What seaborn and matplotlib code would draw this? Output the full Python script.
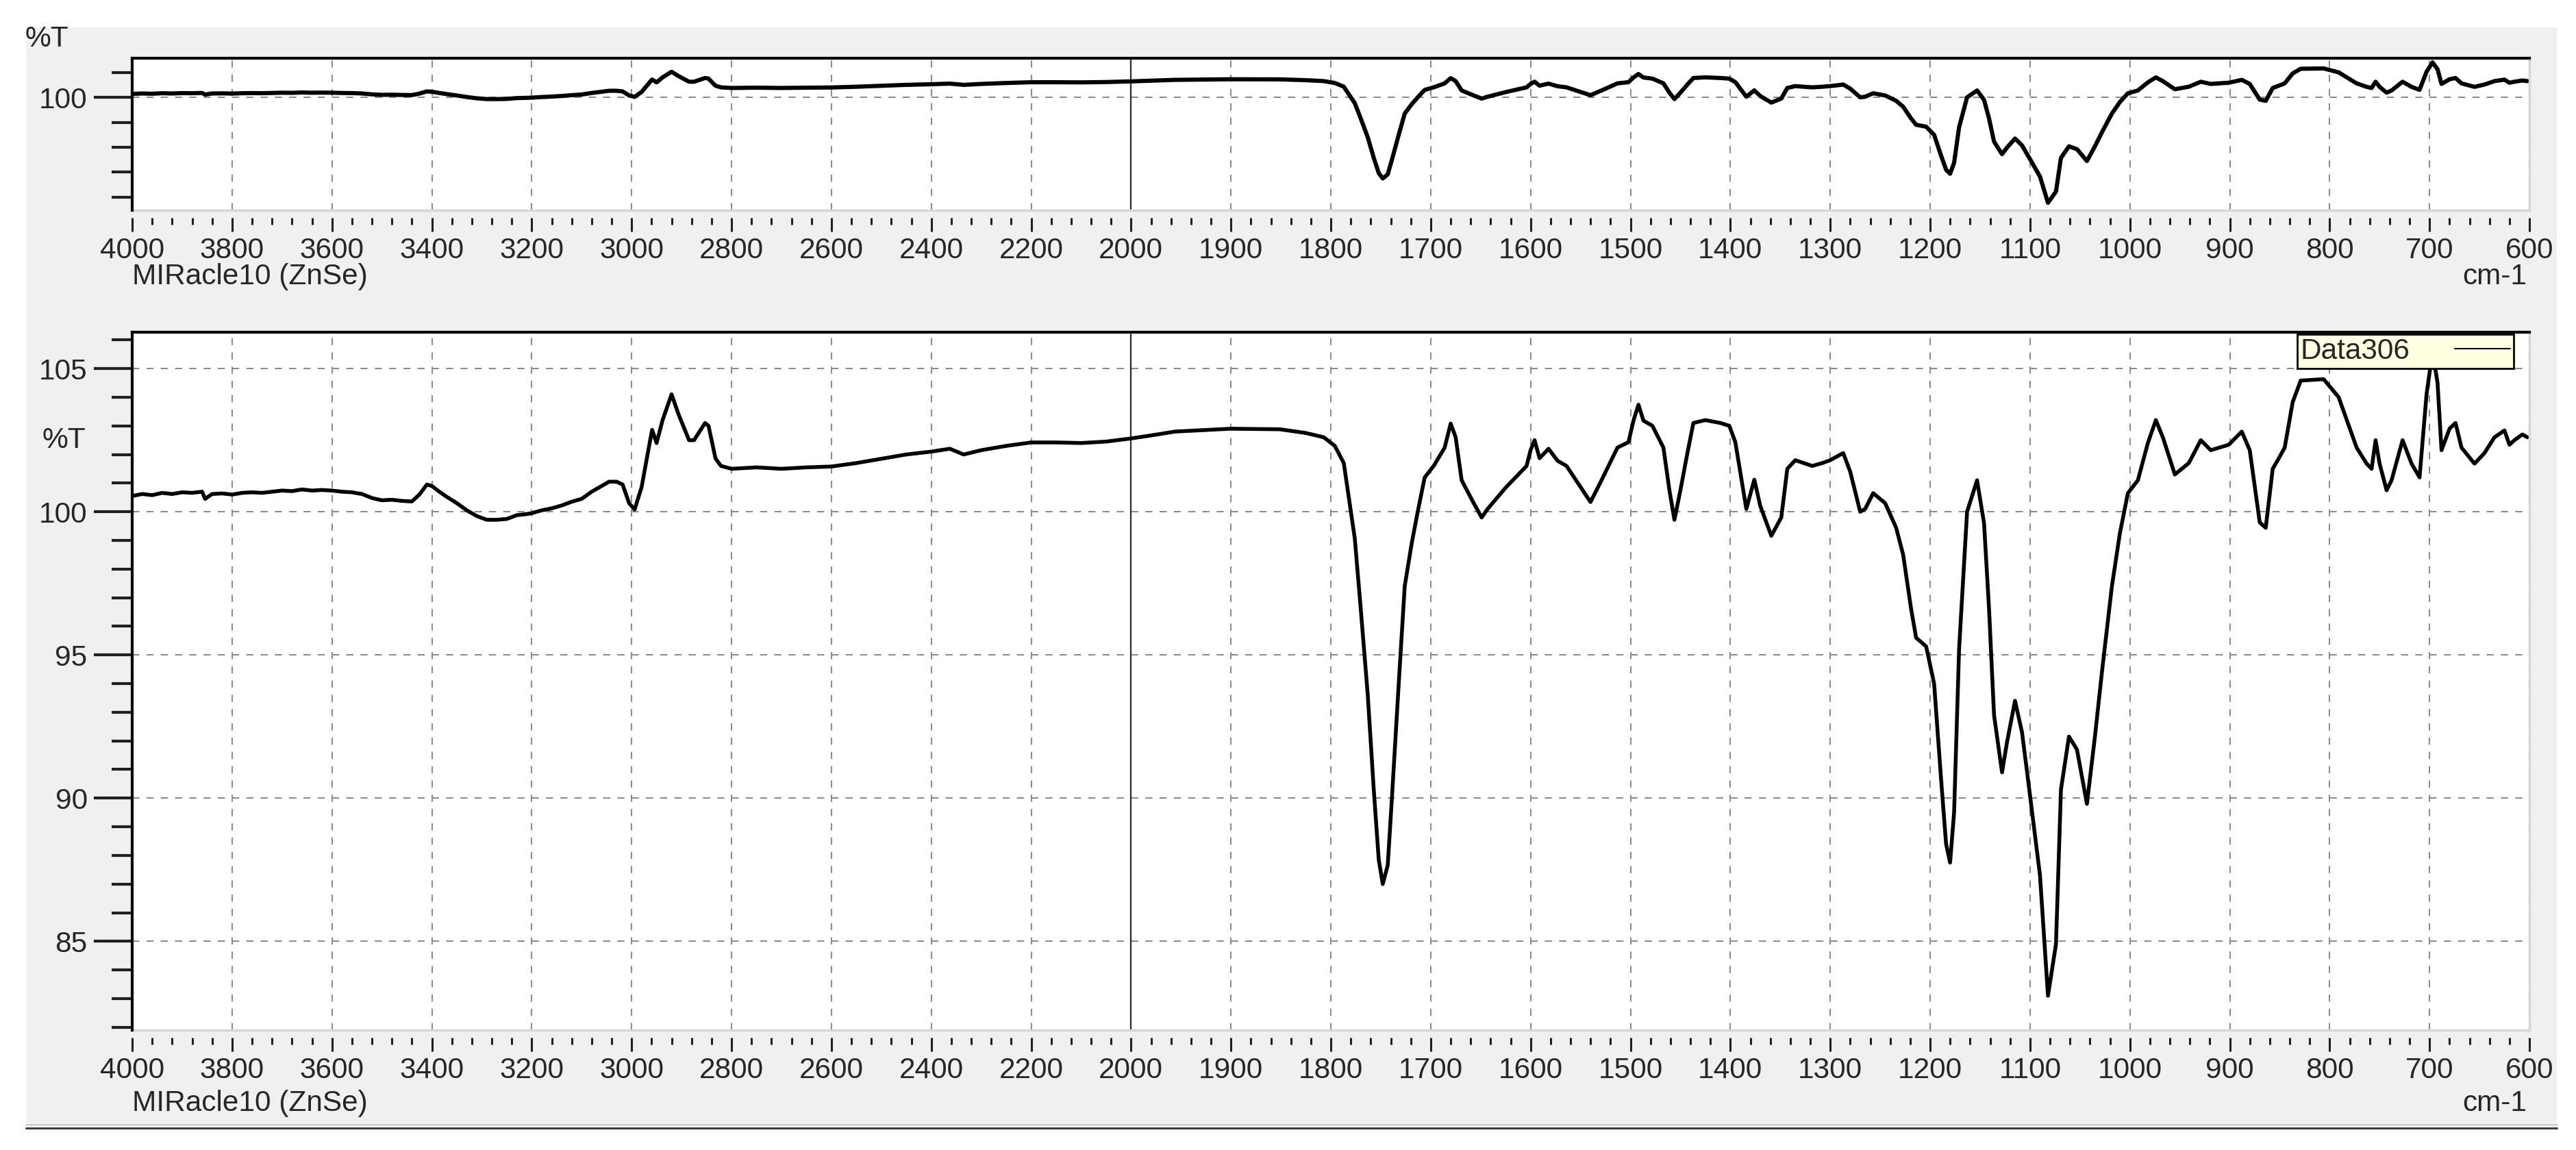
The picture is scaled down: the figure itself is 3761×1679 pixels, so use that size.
import numpy as np
import pandas as pd
import matplotlib
matplotlib.use("Agg")
import matplotlib.pyplot as plt
import matplotlib.transforms as mtransforms
from matplotlib.ticker import FixedLocator, FixedFormatter
from matplotlib.patches import Rectangle
from matplotlib.lines import Line2D
import seaborn as sns

# %% spectrum (cm-1, %T)
wavenumber = [4000, 3980, 3960, 3940, 3920, 3900, 3880, 3860, 3854, 3840, 3820, 3800,
              3780, 3760, 3740, 3720, 3700, 3680, 3660, 3640, 3620, 3600, 3580, 3560,
              3540, 3520, 3500, 3480, 3460, 3440, 3425, 3410, 3400, 3385, 3370, 3350,
              3330, 3310, 3290, 3270, 3250, 3230, 3210, 3200, 3180, 3160, 3140, 3120,
              3100, 3080, 3060, 3045, 3030, 3018, 3005, 2994, 2980, 2966, 2959, 2950,
              2938, 2920, 2906, 2885, 2875, 2853, 2846, 2832, 2821, 2800, 2750, 2700,
              2650, 2600, 2550, 2500, 2450, 2400, 2363, 2335, 2300, 2250, 2200, 2150,
              2100, 2050, 2000, 1979, 1956, 1900, 1851, 1825, 1807, 1796, 1787, 1783,
              1776, 1770, 1763, 1757, 1752, 1748, 1743, 1739, 1732, 1726, 1719, 1713,
              1706, 1697, 1686, 1680, 1675, 1669, 1658, 1649, 1643, 1625, 1604, 1600,
              1596, 1591, 1582, 1573, 1564, 1540, 1529, 1513, 1502, 1497, 1492, 1487,
              1478, 1467, 1461, 1456, 1450, 1443, 1437, 1425, 1410, 1401, 1395, 1384,
              1376, 1370, 1359, 1349, 1343, 1335, 1318, 1308, 1300, 1287, 1280, 1270,
              1265, 1257, 1245, 1234, 1227, 1219, 1214, 1204, 1196, 1189, 1184, 1180,
              1176, 1171, 1163, 1153, 1146, 1141, 1136, 1128, 1123, 1115, 1108, 1100,
              1090, 1082, 1074, 1069, 1061, 1053, 1043, 1035, 1028, 1018, 1010, 1002,
              992, 982, 974, 967, 955, 941, 929, 919, 901, 888, 880, 870,
              864, 857, 852, 845, 837, 829, 806, 791, 773, 763, 758, 754,
              750, 743, 738, 727, 718, 710, 703, 697, 692, 688, 680, 674,
              668, 655, 645, 635, 625, 620, 615, 607, 602]
transmittance = [100.55, 100.62, 100.58, 100.66, 100.62, 100.68, 100.66, 100.70, 100.45, 100.62, 100.64, 100.60,
                 100.66, 100.68, 100.66, 100.70, 100.74, 100.72, 100.78, 100.74, 100.76, 100.74, 100.70, 100.68,
                 100.62, 100.48, 100.40, 100.42, 100.38, 100.36, 100.60, 100.95, 100.90, 100.70, 100.52, 100.30,
                 100.05, 99.85, 99.72, 99.72, 99.75, 99.88, 99.92, 99.95, 100.05, 100.12, 100.22, 100.35,
                 100.45, 100.70, 100.90, 101.05, 101.05, 100.95, 100.30, 100.08, 100.86, 102.20, 102.86, 102.40,
                 103.20, 104.10, 103.40, 102.50, 102.50, 103.10, 103.00, 101.86, 101.60, 101.50, 101.55, 101.50,
                 101.55, 101.58, 101.70, 101.85, 102.00, 102.10, 102.20, 102.00, 102.15, 102.30, 102.42, 102.42,
                 102.40, 102.45, 102.56, 102.67, 102.80, 102.90, 102.88, 102.75, 102.60, 102.30, 101.70, 100.75,
                 99.07, 96.60, 93.60, 90.30, 87.85, 87.00, 87.66, 89.90, 94.00, 97.40, 98.90, 100.00,
                 101.20, 101.60, 102.24, 103.08, 102.60, 101.10, 100.37, 99.80, 100.10, 100.84, 101.60, 102.15,
                 102.50, 101.87, 102.20, 101.78, 101.60, 100.34, 101.10, 102.24, 102.43, 103.18, 103.74, 103.18,
                 103.00, 102.24, 100.75, 99.72, 100.75, 102.05, 103.10, 103.20, 103.10, 103.00, 102.43, 100.10,
                 101.12, 100.20, 99.16, 99.80, 101.50, 101.80, 101.60, 101.70, 101.80, 102.05, 101.40, 100.00,
                 100.10, 100.65, 100.30, 99.44, 98.50, 96.60, 95.60, 95.30, 94.00, 90.65, 88.40, 87.75,
                 89.50, 95.20, 100.00, 101.10, 99.60, 96.60, 92.90, 90.90, 91.96, 93.40, 92.30, 90.10,
                 87.30, 83.10, 84.90, 90.30, 92.15, 91.70, 89.80, 92.15, 94.40, 97.40, 99.25, 100.65,
                 101.10, 102.40, 103.20, 102.60, 101.30, 101.70, 102.50, 102.15, 102.34, 102.80, 102.15, 99.63,
                 99.44, 101.50, 101.80, 102.24, 103.83, 104.58, 104.63, 104.00, 102.24, 101.68, 101.50, 102.50,
                 101.68, 100.75, 101.10, 102.50, 101.68, 101.20, 104.10, 105.60, 104.50, 102.15, 102.90, 103.10,
                 102.24, 101.68, 102.05, 102.60, 102.84, 102.34, 102.50, 102.70, 102.60]

x_major = [4000, 3800, 3600, 3400, 3200, 3000, 2800, 2600, 2400, 2200,
           2000, 1900, 1800, 1700, 1600, 1500, 1400, 1300, 1200, 1100,
           1000, 900, 800, 700, 600]
x_minor = list(range(4000, 2000, -40)) + list(range(2000, 599, -20))
top_y_major = [100]
top_y_minor = [84, 88, 92, 96, 104]
bot_y_major = [85, 90, 95, 100, 105]
bot_y_minor = list(range(82, 107))
legend_label = "Data306"
accessory = "MIRacle10 (ZnSe)"

df = pd.DataFrame({"wavenumber": wavenumber, "T": transmittance})


# axis is compressed above 2000 cm-1 (half the scale of the fingerprint side)
def fwd(x):
    x = np.asarray(x, dtype=float)
    return np.where(x >= 2000, x, 2 * x - 2000)


def inv(u):
    u = np.asarray(u, dtype=float)
    return np.where(u >= 2000, u, (u + 2000) / 2)


sns.set_style("white")
plt.rcParams["font.family"] = ["Liberation Sans", "DejaVu Sans"]
FS = 30.5

W, H = 3761, 1679
fig = plt.figure(figsize=(W / 100, H / 100), dpi=100)
fig.patch.set_facecolor("white")
fig.add_artist(Rectangle((38 / W, 1 - 1642 / H), (3733 - 38) / W, (1642 - 40) / H,
                         transform=fig.transFigure, facecolor="#f0f0f0",
                         edgecolor="none", zorder=-5))
fig.add_artist(Line2D([38 / W, 3733 / W], [1 - 1642 / H] * 2, transform=fig.transFigure,
                      color="#cfcfcf", lw=2))
fig.add_artist(Line2D([38 / W, 3733 / W], [1 - 1647 / H] * 2, transform=fig.transFigure,
                      color="#3c3c3c", lw=2.2))

left, width = 193 / W, 3500 / W
ax_top = fig.add_axes([left, 1 - 307 / H, width, 222 / H])
ax_bot = fig.add_axes([left, 1 - 1504 / H, width, 1019 / H])


def style_axes(ax, y_major, y_minor):
    ax.set_facecolor("white")
    ax.set_xscale("function", functions=(fwd, inv))
    ax.set_xlim(4000, 600)
    ax.set_ylim(81.9, 106.27)
    ax.xaxis.set_major_locator(FixedLocator(x_major))
    ax.xaxis.set_major_formatter(FixedFormatter([str(v) for v in x_major]))
    ax.xaxis.set_minor_locator(FixedLocator(x_minor))
    ax.yaxis.set_major_locator(FixedLocator(y_major))
    ax.yaxis.set_major_formatter(FixedFormatter([str(v) for v in y_major]))
    ax.yaxis.set_minor_locator(FixedLocator(y_minor))
    ax.tick_params(axis="x", which="major", direction="out", length=14.4, width=2.2,
                   pad=6, labelsize=FS, color="#202020", bottom=True)
    ax.tick_params(axis="x", which="minor", direction="out", length=7.2, width=2.2,
                   color="#202020", bottom=True)
    ax.tick_params(axis="y", which="major", direction="out", length=40, width=3,
                   pad=7, labelsize=FS, color="#202020", left=True)
    ax.tick_params(axis="y", which="minor", direction="out", length=21.6, width=3,
                   color="#202020", left=True)
    ax.grid(True, which="major", color="#8c8c8c", linestyle=(0, (5, 5)), linewidth=1.5)
    ax.set_axisbelow(True)
    ax.axvline(2000, color="#2a2a2a", lw=1.6, zorder=1.5)
    ax.spines["left"].set_color("black")
    ax.spines["left"].set_linewidth(3)
    ax.spines["top"].set_color("black")
    ax.spines["top"].set_linewidth(3)
    ax.spines["right"].set_color("#d6d6d6")
    ax.spines["right"].set_linewidth(2.5)
    ax.spines["bottom"].set_position(("outward", 8))
    ax.spines["bottom"].set_visible(False)
    ax.add_line(Line2D([0, 1], [0, 0], transform=ax.transAxes, color="#d6d6d6",
                       lw=2.5, clip_on=False))
    ax.set_xlabel("")
    ax.set_ylabel("")


# %% overview panel
sns.lineplot(data=df, x="wavenumber", y="T", ax=ax_top, color="black",
             linewidth=4.4, estimator=None, legend=False)
style_axes(ax_top, top_y_major, top_y_minor)
fig.text(36 / W, 1 - 57 / H, "%T", fontsize=FS, ha="left", va="center")
ax_top.text(0.0, -0.486, accessory, transform=ax_top.transAxes, fontsize=FS,
            ha="left", va="baseline")
ax_top.text(0.9989, -0.486, "cm-1", transform=ax_top.transAxes, fontsize=FS,
            ha="right", va="baseline")

# %% main panel
sns.lineplot(data=df, x="wavenumber", y="T", ax=ax_bot, color="black",
             linewidth=4.0, estimator=None, label=legend_label)
style_axes(ax_bot, bot_y_major, bot_y_minor)
blend = mtransforms.blended_transform_factory(ax_bot.transAxes, ax_bot.transData)
ax_bot.text(-0.0194, 102.5, "%T", transform=blend, fontsize=FS, ha="right", va="center")
ax_bot.text(0.0, -0.1158, accessory, transform=ax_bot.transAxes, fontsize=FS,
            ha="left", va="baseline")
ax_bot.text(0.9989, -0.1158, "cm-1", transform=ax_bot.transAxes, fontsize=FS,
            ha="right", va="baseline")

leg = ax_bot.legend(loc="upper right", bbox_to_anchor=(0.9934, 0.997), markerfirst=False,
                    frameon=True, fancybox=False, facecolor="#ffffe1", edgecolor="black",
                    framealpha=1, borderaxespad=0, handlelength=1.9, handletextpad=1.55,
                    borderpad=0.12, fontsize=FS)
leg.get_frame().set_linewidth(2)
leg.get_lines()[0].set_linewidth(1.5)

fig.savefig("out.png", dpi=100)
